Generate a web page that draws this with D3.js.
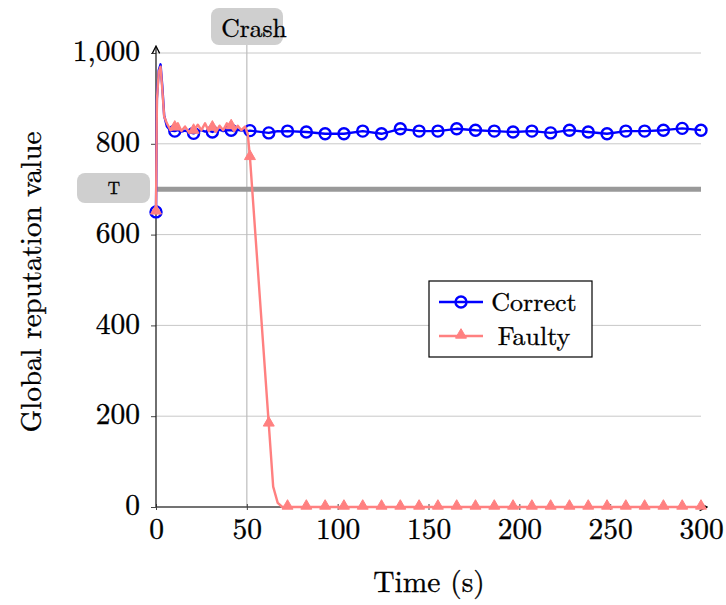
<!DOCTYPE html>
<html>
<head>
<meta charset="utf-8">
<script src="https://cdn.jsdelivr.net/npm/d3@7"></script>
<style>
  body { margin: 0; background: #fff; }
</style>
</head>
<body>
<div id="chart"></div>
<script>
// sample times (s) for the line paths
var lineTimes = [0, 0.5, 1.5, 2.5, 3.5, 4.5, 6, 8, 10.34, 12, 14, 16, 18, 20.69, 23, 25, 27, 29,
    31.03, 33, 35, 37, 39, 41.38, 43, 45, 47, 49, 50.5, 51.72, 62.07, 64.5, 67, 69.5, 72.41,
    82.76, 93.1, 103.45, 113.79, 124.14, 134.48, 144.83, 155.17, 165.52, 175.86, 186.21,
    196.55, 206.9, 217.24, 227.59, 237.93, 248.28, 258.62, 268.97, 279.31, 289.66, 300];
var correctVals = [650, 900, 962, 975, 925, 862, 838, 829, 828, 830, 827, 829, 826, 823, 828, 830, 827, 829,
    826, 829, 831, 828, 830, 830, 828, 831, 829, 830, 828, 829, 824, 826, 828, 827, 828,
    826, 822, 822, 828, 822, 833, 828, 828, 833, 830, 828,
    826, 828, 824, 830, 826, 822, 828, 828, 830, 834, 830];
var faultyVals = [650, 895, 958, 970, 918, 860, 845, 830, 835, 845, 828, 838, 826, 828, 842, 830, 845, 828,
    835, 826, 840, 830, 845, 838, 828, 840, 830, 838, 822, 770, 183, 45, 9, 0, 0,
    0, 0, 0, 0, 0, 0, 0, 0, 0, 0, 0,
    0, 0, 0, 0, 0, 0, 0, 0, 0, 0, 0];
// times carrying a marker
var markTimes = [0, 10.34, 20.69, 31.03, 41.38, 51.72, 62.07, 72.41, 82.76, 93.1, 103.45, 113.79,
    124.14, 134.48, 144.83, 155.17, 165.52, 175.86, 186.21, 196.55, 206.9, 217.24, 227.59,
    237.93, 248.28, 258.62, 268.97, 279.31, 289.66, 300];
var xTicks = [0, 50, 100, 150, 200, 250, 300];
var yTicks = [0, 200, 400, 600, 800, 1000];
var threshold = 700;
var crashTime = 50;
var seriesNames = ["Correct", "Faulty"];

var W = 726, H = 605;
var blue = "#0000ff", pink = "#ff8080";
var FONT = "'Latin Modern Roman', 'CMU Serif', 'Liberation Serif', serif";

var svg = d3.select("#chart").append("svg")
    .attr("width", W).attr("height", H);

function txt(sel, size){
    return sel.style("font-family", FONT).style("font-size", size + "px")
        .style("fill", "#000").style("stroke", "#000").style("stroke-width", 0.35);
}

var x = d3.scaleLinear().domain([0, 300]).range([156, 701]);
var y = d3.scaleLinear().domain([0, 1000]).range([507, 53]);

/* grid */
svg.append("g").selectAll("line")
    .data(yTicks.slice(1))
    .enter().append("line")
    .attr("x1", x(0)).attr("x2", x(300))
    .attr("y1", function(d){ return y(d); })
    .attr("y2", function(d){ return y(d); })
    .style("stroke", "#c8c8c8").style("stroke-width", 1);

/* crash line */
svg.append("line")
    .attr("x1", x(crashTime)).attr("x2", x(crashTime))
    .attr("y1", 44).attr("y2", y(0))
    .style("stroke", "#bdbdbd").style("stroke-width", 1.2);

/* threshold */
svg.append("line")
    .attr("x1", x(0)).attr("x2", x(300))
    .attr("y1", y(threshold)).attr("y2", y(threshold))
    .style("stroke", "#999").style("stroke-width", 5);

/* axes */
var defs = svg.append("defs");
defs.append("marker").attr("id", "arr")
    .attr("viewBox", "0 0 10 10").attr("refX", 8).attr("refY", 5)
    .attr("markerWidth", 7).attr("markerHeight", 7).attr("orient", "auto")
    .append("path").attr("d", "M1,1 L9,5 L1,9").style("fill", "none")
    .style("stroke", "#000").style("stroke-width", 1.4);

var xAxis = d3.axisBottom(x).tickValues(xTicks).tickSize(0).tickPadding(11).tickFormat(d3.format("d"));
var gx = svg.append("g").attr("transform", "translate(0," + y(0) + ")").call(xAxis);
gx.select(".domain").remove();
txt(gx.selectAll("text"), 29.5);
gx.selectAll(".tick").append("line").attr("y1", -3).attr("y2", 3).style("stroke", "#444");

var yAxis = d3.axisLeft(y).tickValues(yTicks).tickSize(0).tickPadding(16).tickFormat(d3.format(","));
var gy = svg.append("g").attr("transform", "translate(" + x(0) + ",0)").call(yAxis);
gy.select(".domain").remove();
txt(gy.selectAll("text"), 29.5).attr("dy", "0.26em");
gy.selectAll(".tick").append("line").attr("x1", -5).attr("x2", 0).style("stroke", "#444");

svg.append("line")
    .attr("x1", x(0)).attr("x2", 706).attr("y1", y(0)).attr("y2", y(0))
    .style("stroke", "#444").style("stroke-width", 1.3).attr("marker-end", "url(#arr)");
svg.append("line")
    .attr("x1", x(0)).attr("x2", x(0)).attr("y1", y(0)).attr("y2", 47)
    .style("stroke", "#222").style("stroke-width", 1.3).attr("marker-end", "url(#arr)");

/* series */
var line = d3.line()
    .x(function(d){ return x(d.t); })
    .y(function(d){ return y(d.v); });

function series(vals){
    return lineTimes.map(function(t, i){ return {t: t, v: vals[i]}; });
}
var correct = series(correctVals);
var faulty = series(faultyVals);

var tri = d3.symbol().type(d3.symbolTriangle).size(52);

svg.append("path").datum(correct).attr("d", line)
    .style("fill", "none").style("stroke", blue).style("stroke-width", 2.4)
    .style("stroke-linejoin", "round");
svg.append("g").selectAll("circle")
    .data(correct.filter(function(d){ return markTimes.indexOf(d.t) >= 0; }))
    .enter().append("circle")
    .attr("cx", function(d){ return x(d.t); })
    .attr("cy", function(d){ return y(d.v); })
    .attr("r", 5.5)
    .style("fill", "none").style("stroke", blue).style("stroke-width", 2.4);

svg.append("path").datum(faulty).attr("d", line)
    .style("fill", "none").style("stroke", pink).style("stroke-width", 2.4)
    .style("stroke-linejoin", "round");
svg.append("g").selectAll("path")
    .data(faulty.filter(function(d){ return markTimes.indexOf(d.t) >= 0; }))
    .enter().append("path")
    .attr("d", tri)
    .attr("transform", function(d){ return "translate(" + x(d.t) + "," + (y(d.v) - 1) + ")"; })
    .style("fill", pink).style("stroke", pink).style("stroke-width", 1);

/* labels */
svg.append("rect").attr("x", 211).attr("y", 8).attr("width", 72).attr("height", 37)
    .attr("rx", 8).style("fill", "#cfcfcf");
txt(svg.append("text").attr("x", 254).attr("y", 37).attr("text-anchor", "middle"), 25.5)
    .text("Crash");

svg.append("rect").attr("x", 77).attr("y", 173).attr("width", 73).attr("height", 30)
    .attr("rx", 8).style("fill", "#cfcfcf");
txt(svg.append("text").attr("x", 114).attr("y", 194).attr("text-anchor", "middle"), 17)
    .text("T");

txt(svg.append("text").attr("x", 429).attr("y", 592).attr("text-anchor", "middle"), 29.5)
    .text("Time (s)");
txt(svg.append("text")
    .attr("transform", "translate(41,282) rotate(-90)")
    .attr("text-anchor", "middle"), 29)
    .text("Global reputation value");

/* legend */
var lg = svg.append("g").attr("transform", "translate(429,281)");
lg.append("rect").attr("width", 163).attr("height", 76)
    .style("fill", "#fff").style("stroke", "#000").style("stroke-width", 1.2);
var items = lg.selectAll("g.item").data(seriesNames).enter().append("g")
    .attr("class", "item")
    .attr("transform", function(d, i){ return "translate(0," + (21 + i * 34) + ")"; });
items.append("line").attr("x1", 10).attr("x2", 54)
    .style("stroke", function(d, i){ return i == 0 ? blue : pink; })
    .style("stroke-width", 2.4);
items.each(function(d, i){
    var g = d3.select(this);
    if (i == 0) {
        g.append("circle").attr("cx", 32).attr("r", 5.5)
            .style("fill", "none").style("stroke", blue).style("stroke-width", 2.4);
    } else {
        g.append("path").attr("d", tri).attr("transform", "translate(32,-1)")
            .style("fill", pink).style("stroke", pink);
    }
});
txt(items.append("text").attr("x", 105).attr("y", 9).attr("text-anchor", "middle"), 26)
    .text(function(d){ return d; });
</script>
</body>
</html>
